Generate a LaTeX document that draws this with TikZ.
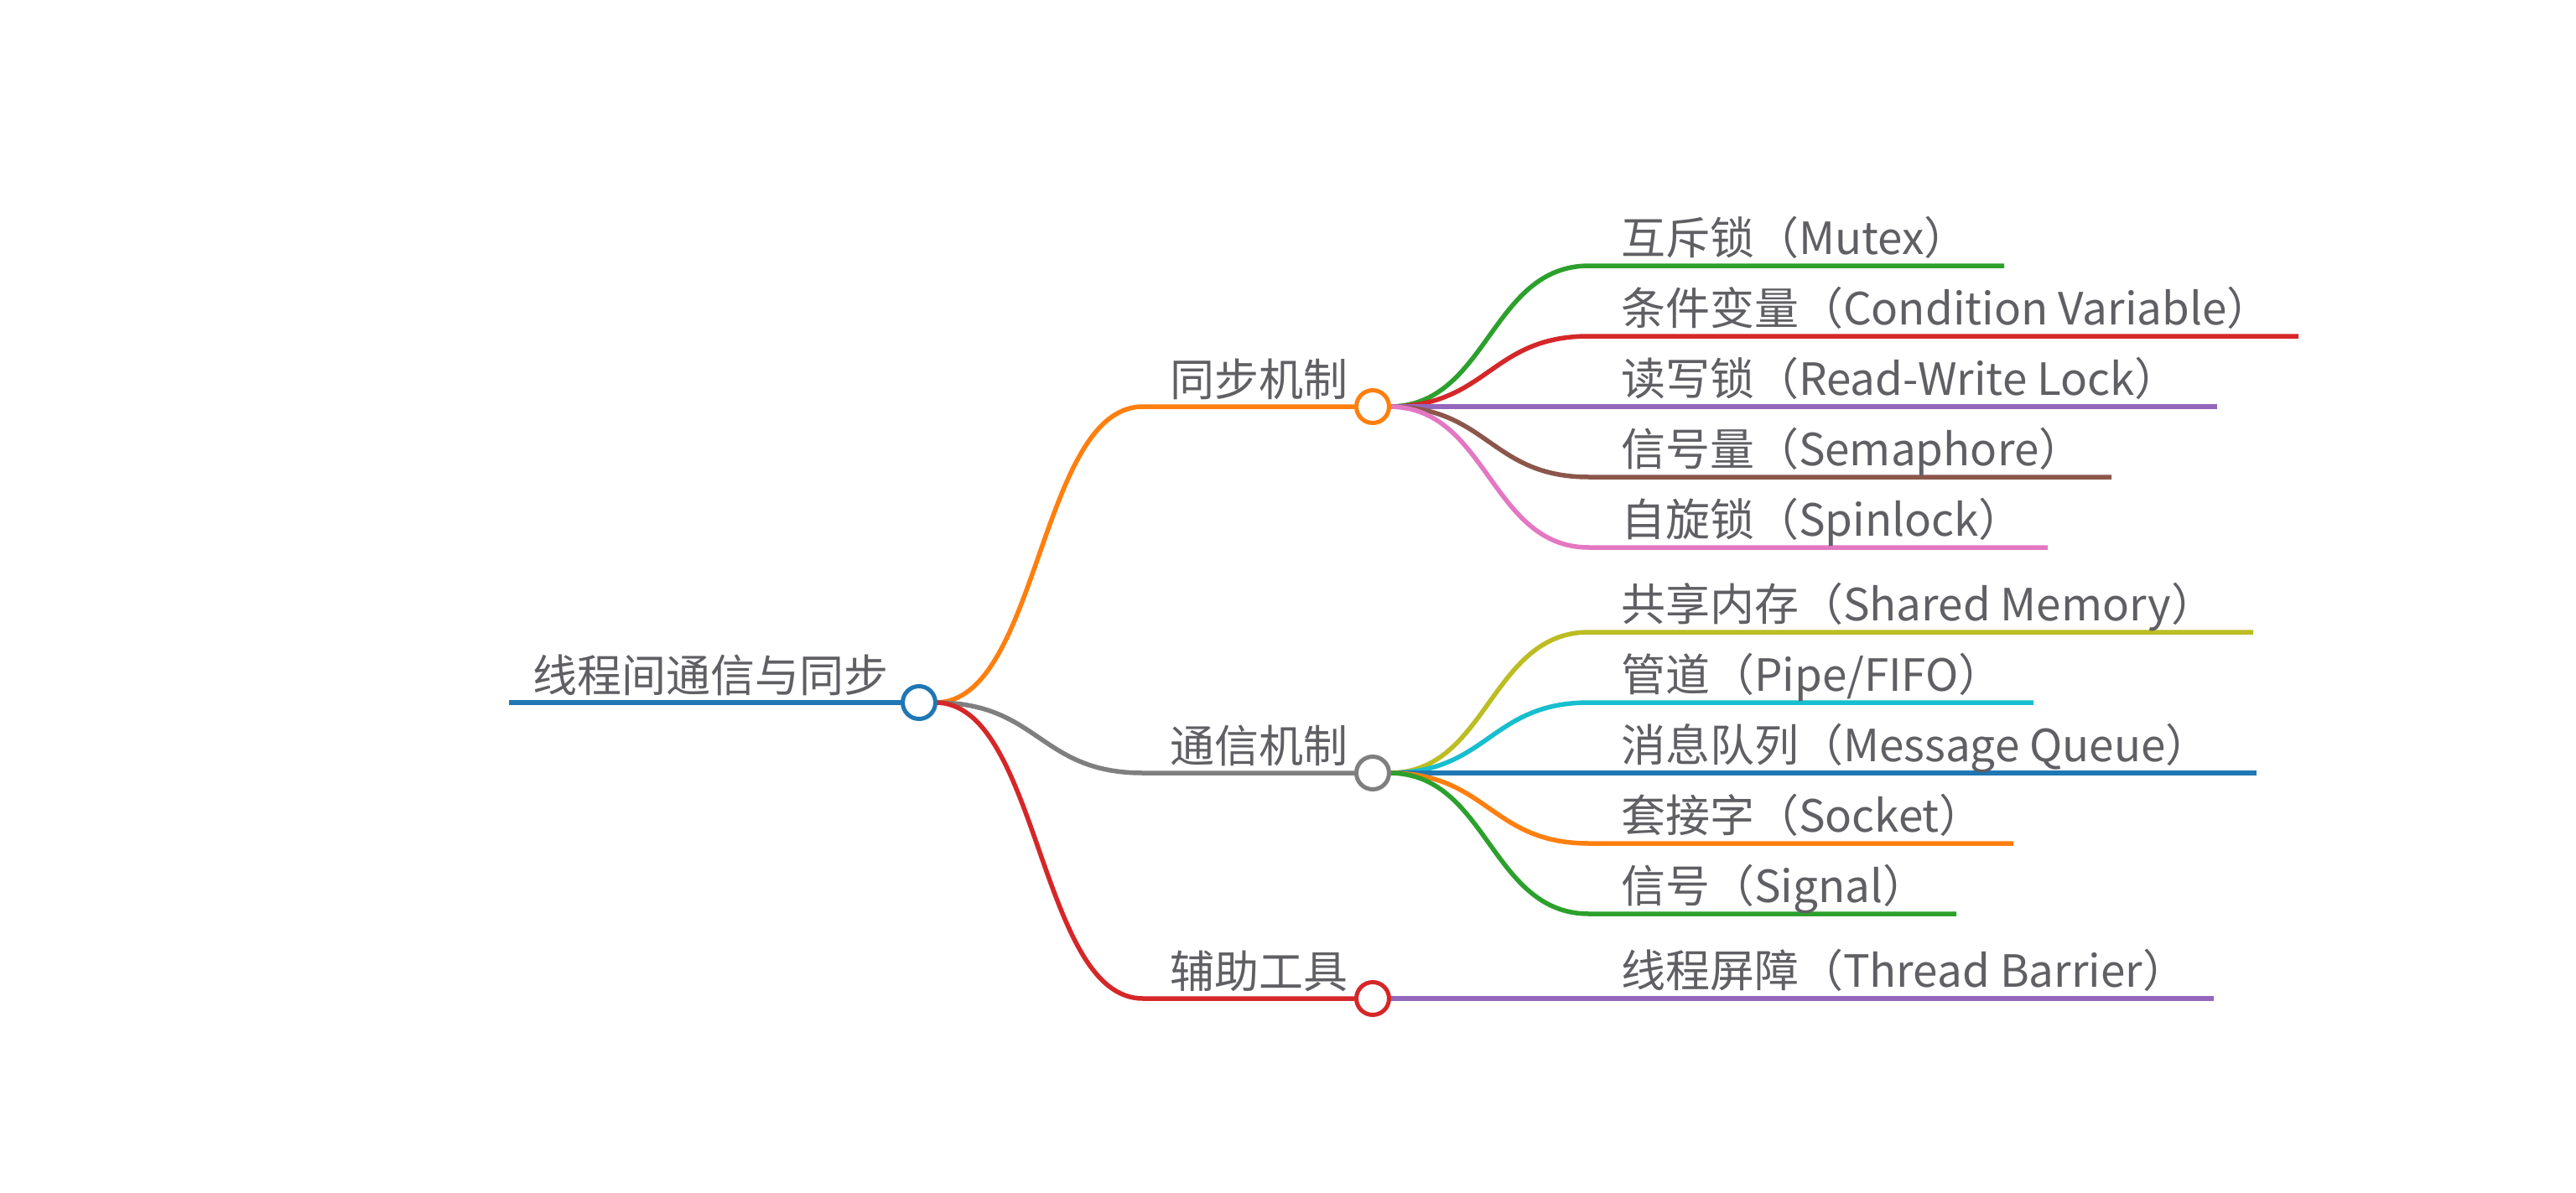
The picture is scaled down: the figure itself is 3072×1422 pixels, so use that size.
\documentclass[tikz,border=0pt]{standalone}
\usepackage{fontspec}
\setmainfont{Noto Sans CJK SC}
\definecolor{cblue}{HTML}{1F77B4}
\definecolor{corange}{HTML}{FF7F0E}
\definecolor{cgreen}{HTML}{2CA02C}
\definecolor{cred}{HTML}{D62728}
\definecolor{cpurple}{HTML}{9467BD}
\definecolor{cbrown}{HTML}{8C564B}
\definecolor{cpink}{HTML}{E377C2}
\definecolor{cgray}{HTML}{7F7F7F}
\definecolor{colive}{HTML}{BCBD22}
\definecolor{ccyan}{HTML}{17BECF}
\definecolor{txt}{HTML}{5F5F64}
\pgfdeclarelayer{bg}
\pgfsetlayers{bg,main}
\begin{document}
\begin{tikzpicture}[x=1pt,y=-1pt,
  lbl/.style={anchor=base west, inner sep=0pt, outer sep=0pt, text=txt, font=\fontsize{53}{60}\selectfont},
  dot/.style={circle, draw=#1, fill=white, line width=5pt, minimum size=39pt, inner sep=0pt, outer sep=0pt},
  rootln/.style={draw=#1, line width=6.5pt},
  midln/.style={draw=#1, line width=5.5pt},
  leafln/.style={draw=#1, line width=5.5pt},
  lk1/.style={out=0, in=180, out distance=124pt, in distance=124pt},
  lk2/.style={out=0, in=180, out distance=118pt, in distance=118pt}]
\useasboundingbox (0,0) rectangle (3072,1422);
% circles
\node[dot=cblue] (r) at (1096,838) {};
\node[dot=corange] (s1) at (1637,485) {};
\node[dot=cgray] (s2) at (1637,922) {};
\node[dot=cred] (s3) at (1637,1191) {};
% line end points
\coordinate (rl) at (607,838);
\coordinate (a1) at (1363,485);
\coordinate (a2) at (1363,922);
\coordinate (a3) at (1363,1191);
\coordinate (m1s) at (1895,317);  \coordinate (m1e) at (2390,317);
\coordinate (m2s) at (1895,401);  \coordinate (m2e) at (2741,401);
\coordinate (m3s) at (1895,485);  \coordinate (m3e) at (2644,485);
\coordinate (m4s) at (1895,569);  \coordinate (m4e) at (2518,569);
\coordinate (m5s) at (1895,653);  \coordinate (m5e) at (2442,653);
\coordinate (n1s) at (1895,754);  \coordinate (n1e) at (2687,754);
\coordinate (n2s) at (1895,838);  \coordinate (n2e) at (2425,838);
\coordinate (n3s) at (1895,922);  \coordinate (n3e) at (2691,922);
\coordinate (n4s) at (1895,1006); \coordinate (n4e) at (2401,1006);
\coordinate (n5s) at (1895,1090); \coordinate (n5e) at (2333,1090);
\coordinate (t1s) at (1895,1191); \coordinate (t1e) at (2640,1191);
% texts
\node[lbl] (tr) at (635,825) {线程间通信与同步};
\node[lbl] (t1) at (1395,472) {同步机制};
\node[lbl] (t2) at (1395,909) {通信机制};
\node[lbl] (t3) at (1395,1178) {辅助工具};
\node[lbl] (lm1) at (1933,303) {互斥锁（Mutex）};
\node[lbl] (lm2) at (1933,387) {条件变量（Condition Variable）};
\node[lbl] (lm3) at (1933,471) {读写锁（Read-Write Lock）};
\node[lbl] (lm4) at (1933,555) {信号量（Semaphore）};
\node[lbl] (lm5) at (1933,639) {自旋锁（Spinlock）};
\node[lbl] (ln1) at (1933,740) {共享内存（Shared Memory）};
\node[lbl] (ln2) at (1933,824) {管道（Pipe/FIFO）};
\node[lbl] (ln3) at (1933,908) {消息队列（Message Queue）};
\node[lbl] (ln4) at (1933,992) {套接字（Socket）};
\node[lbl] (ln5) at (1933,1076) {信号（Signal）};
\node[lbl] (lt1) at (1933,1177) {线程屏障（Thread Barrier）};
\begin{pgfonlayer}{bg}
\fill[white] (0,0) rectangle (3072,1422);
\draw[rootln=cblue] (rl) -- (r);
\draw[midln=corange] (r.east) to[lk1] (a1) -- (s1);
\draw[midln=cgray] (r.east) to[lk1] (a2) -- (s2);
\draw[midln=cred] (r.east) to[lk1] (a3) -- (s3);
\draw[leafln=cgreen] (s1.east) to[lk2] (m1s) -- (m1e);
\draw[leafln=cred] (s1.east) to[lk2] (m2s) -- (m2e);
\draw[leafln=cpurple] (s1.east) to[lk2] (m3s) -- (m3e);
\draw[leafln=cbrown] (s1.east) to[lk2] (m4s) -- (m4e);
\draw[leafln=cpink] (s1.east) to[lk2] (m5s) -- (m5e);
\draw[leafln=colive] (s2.east) to[lk2] (n1s) -- (n1e);
\draw[leafln=ccyan] (s2.east) to[lk2] (n2s) -- (n2e);
\draw[leafln=cblue] (s2.east) to[lk2] (n3s) -- (n3e);
\draw[leafln=corange] (s2.east) to[lk2] (n4s) -- (n4e);
\draw[leafln=cgreen] (s2.east) to[lk2] (n5s) -- (n5e);
\draw[leafln=cpurple] (s3.east) to[lk2] (t1s) -- (t1e);
\end{pgfonlayer}
\end{tikzpicture}
\end{document}
